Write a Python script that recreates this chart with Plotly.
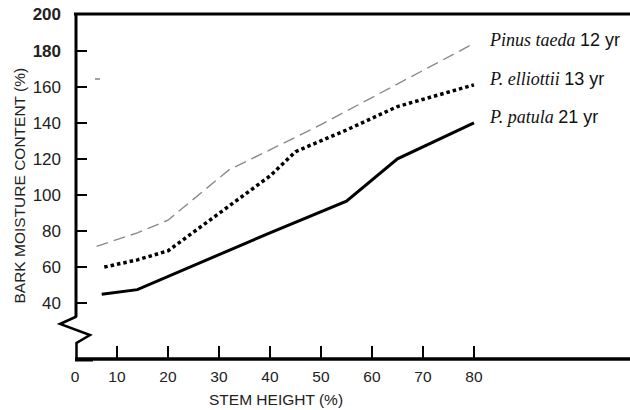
import plotly.graph_objects as go

# ---- data ----
taeda_x = [6, 14, 20, 32, 40, 50, 60, 70, 80]
taeda_y = [71.5, 79, 86, 114, 125, 139, 154, 169, 184]

elliottii_x = [7.5, 14, 20, 30, 40, 45, 55, 65, 80]
elliottii_y = [60, 64, 69, 90, 110.5, 124, 136, 149, 161]

patula_x = [7, 14, 40, 55, 65, 80]
patula_y = [45, 47.5, 79, 96.5, 120, 140]

x_tick_vals = [10, 20, 30, 40, 50, 60, 70, 80]
x_tick_text = ["10", "20", "30", "40", "50", "60", "70", "80"]
y_tick_vals = [40, 60, 80, 100, 120, 140, 160, 180, 200]
y_tick_text = ["40", "60", "80", "100", "120", "140", "160", "<b>180</b>", "<b>200</b>"]

series_labels = [
    ("Pinus taeda", "12 yr"),
    ("P. elliottii", "13 yr"),
    ("P. patula", "21 yr"),
]

# ---- layout geometry (pixels) ----
W, H = 630, 410
L, R, T, B = 75, 0, 14, 52
PW, PH = W - L - R, H - T - B
X_RANGE = [1.765, 110.6]
Y_RANGE = [9.6, 200.3]


def px(xp):
    return (xp - L) / PW


def py(yp):
    return (H - B - yp) / PH


SANS = "Liberation Sans, Arial, sans-serif"
SERIF = "Liberation Serif, Times New Roman, serif"

fig = go.Figure()
fig.add_trace(go.Scatter(x=taeda_x, y=taeda_y, mode="lines",
                         line=dict(color="#8a8a8a", width=1.4, dash="12px,6px"),
                         showlegend=False, hoverinfo="skip"))
fig.add_trace(go.Scatter(x=elliottii_x, y=elliottii_y, mode="lines",
                         line=dict(color="black", width=3.5, dash="3.5px,3px"),
                         showlegend=False, hoverinfo="skip"))
fig.add_trace(go.Scatter(x=patula_x, y=patula_y, mode="lines",
                         line=dict(color="black", width=3),
                         showlegend=False, hoverinfo="skip"))

# x tick values incl. the "0" at the broken-axis corner
fig.update_xaxes(range=X_RANGE, showgrid=False, zeroline=False, showline=False,
                 tickvals=[X_RANGE[0]] + x_tick_vals, ticktext=["0"] + x_tick_text,
                 ticks="inside", ticklen=12, tickwidth=2, tickcolor="black",
                 tickfont=dict(family=SANS, size=15.5, color="#222"),
                 ticklabelstandoff=7)
fig.update_yaxes(range=Y_RANGE, showgrid=False, zeroline=False, showline=False,
                 tickvals=y_tick_vals, ticktext=y_tick_text,
                 ticks="inside", ticklen=12, tickwidth=1.5, tickcolor="black",
                 tickfont=dict(family=SANS, size=17, color="#222"),
                 ticklabelstandoff=13)

line_style = dict(color="black", width=3)
shapes = [
    # top frame
    dict(type="line", xref="paper", yref="paper", x0=px(74), x1=px(630), y0=py(14), y1=py(14), line=line_style),
    # left axis down to the break
    dict(type="line", xref="paper", yref="paper", x0=px(76), x1=px(76), y0=py(13), y1=py(317), line=line_style),
    # zigzag break
    dict(type="path", xref="paper", yref="paper",
         path=f"M {px(76.5)},{py(316.5)} L {px(60)},{py(324)} L {px(90)},{py(335)} L {px(76.5)},{py(343)} L {px(76.5)},{py(360)}",
         line=dict(color="black", width=2.5)),
    # x axis
    dict(type="line", xref="paper", yref="paper", x0=px(75), x1=px(630), y0=py(359), y1=py(359), line=dict(color="black", width=3.3)),
    dict(type="line", xref="paper", yref="paper", x0=px(75), x1=px(93), y0=py(360), y1=py(360), line=dict(color="black", width=3)),
    # small stray mark near the 160 gridline
    dict(type="line", xref="paper", yref="paper", x0=px(95), x1=px(100), y0=py(79), y1=py(79), line=dict(color="#444", width=1)),
]

annotations = [
    dict(text="STEM HEIGHT (%)", xref="paper", yref="paper", x=px(276), y=py(399),
         showarrow=False, xanchor="center", yanchor="middle",
         font=dict(family=SANS, size=15.5, color="#222")),
    dict(text="BARK MOISTURE CONTENT (%)", xref="paper", yref="paper", x=px(18.5), y=py(186),
         showarrow=False, xanchor="center", yanchor="middle", textangle=-90,
         font=dict(family=SANS, size=15.5, color="#222")),
]
label_y = [40, 79, 117]
for (name, age), yp in zip(series_labels, label_y):
    annotations.append(dict(
        text=f"<i>{name}</i> <span style='font-family:{SANS}'>{age}</span>",
        xref="paper", yref="paper", x=px(487), y=py(yp), showarrow=False,
        xanchor="left", yanchor="middle",
        font=dict(family=SERIF, size=18, color="#111")))

fig.update_layout(width=W, height=H, margin=dict(l=L, r=R, t=T, b=B),
                  paper_bgcolor="white", plot_bgcolor="white",
                  shapes=shapes, annotations=annotations)

fig.write_html("out.html")
